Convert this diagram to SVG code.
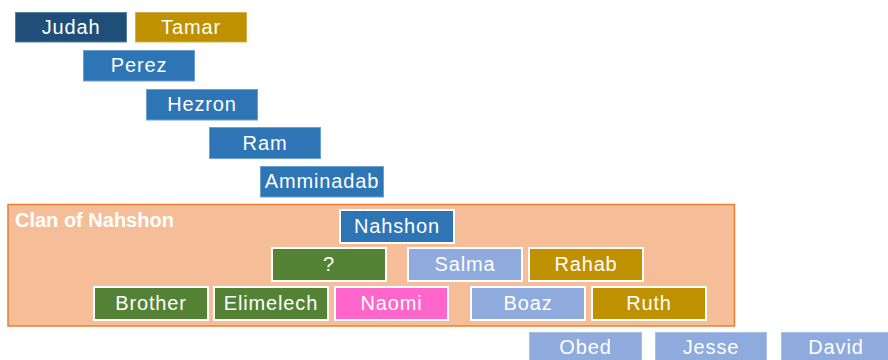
<svg xmlns="http://www.w3.org/2000/svg" width="888" height="360" viewBox="0 0 888 360">
  <style>
    .box { stroke-width: 1; }
    .in { stroke: #ffffff; stroke-width: 2; }
    .lbl { font-family: "Liberation Sans", Arial, sans-serif; font-size: 20px; letter-spacing: 0.85px; fill: #ffffff; text-anchor: middle; }
    .clan { font-family: "Liberation Sans", Arial, sans-serif; font-size: 20px; font-weight: bold; fill: #ffffff; }
    .dark { fill: #1f4e79; stroke: #5a7fa3; }
    .gold { fill: #bf9000; }
    .blue { fill: #2e75b6; stroke: #6d9fd0; }
    .green { fill: #548235; }
    .pale { fill: #8faadc; }
    .pink { fill: #ff66cc; }
  </style>

  <rect width="888" height="360" fill="#ffffff"/>

  <!-- clan region -->
  <g id="clan-nahshon">
    <rect x="8" y="204.5" width="726.5" height="121.5" fill="#f6be98" stroke="#ed7d31" stroke-width="1.5"/>
    <text class="clan" x="15" y="227">Clan of Nahshon</text>
  </g>

  <!-- line of descent above the clan -->
  <g id="judah"><rect class="box dark" x="15.5" y="12.5" width="111" height="29.5"/><text class="lbl" x="71" y="34">Judah</text></g>
  <g id="tamar"><rect class="box gold" x="135.5" y="12.5" width="111" height="29.5" stroke="#d6b050"/><text class="lbl" x="191" y="34">Tamar</text></g>
  <g id="perez"><rect class="box blue" x="83.5" y="50.5" width="111" height="30.5"/><text class="lbl" x="139" y="72">Perez</text></g>
  <g id="hezron"><rect class="box blue" x="146.5" y="89.5" width="111" height="30.5"/><text class="lbl" x="202" y="111">Hezron</text></g>
  <g id="ram"><rect class="box blue" x="209.5" y="127.5" width="111" height="31"/><text class="lbl" x="265" y="150">Ram</text></g>
  <g id="amminadab"><rect class="box blue" x="260.5" y="166.5" width="123" height="30.5"/><text class="lbl" x="322" y="188">Amminadab</text></g>

  <!-- members of the clan -->
  <g id="nahshon"><rect class="in" x="340" y="210" width="114" height="33" fill="#2e75b6"/><text class="lbl" x="397" y="233">Nahshon</text></g>
  <g id="unknown"><rect class="in green" x="272" y="248" width="114" height="33"/><text class="lbl" x="329" y="271">?</text></g>
  <g id="salma"><rect class="in pale" x="408" y="248" width="114" height="33"/><text class="lbl" x="465" y="271">Salma</text></g>
  <g id="rahab"><rect class="in gold" x="529" y="248" width="114" height="33"/><text class="lbl" x="586" y="271">Rahab</text></g>
  <g id="brother"><rect class="in green" x="94" y="287" width="114" height="33"/><text class="lbl" x="151" y="310">Brother</text></g>
  <g id="elimelech"><rect class="in green" x="214" y="287" width="114" height="33"/><text class="lbl" x="271" y="310">Elimelech</text></g>
  <g id="naomi"><rect class="in pink" x="335" y="287" width="113" height="33"/><text class="lbl" x="391.5" y="310">Naomi</text></g>
  <g id="boaz"><rect class="in pale" x="471" y="287" width="114" height="33"/><text class="lbl" x="528" y="310">Boaz</text></g>
  <g id="ruth"><rect class="in gold" x="592" y="287" width="114" height="33"/><text class="lbl" x="649" y="310">Ruth</text></g>

  <!-- descendants below the clan -->
  <g id="obed"><rect class="box pale" x="529.5" y="332.5" width="112" height="30" stroke="#a9bfe6"/><text class="lbl" x="585.5" y="354">Obed</text></g>
  <g id="jesse"><rect class="box pale" x="655.5" y="332.5" width="111" height="30" stroke="#a9bfe6"/><text class="lbl" x="711" y="354">Jesse</text></g>
  <g id="david"><rect class="box pale" x="781.5" y="332.5" width="112" height="30" stroke="#a9bfe6"/><text class="lbl" x="836" y="354">David</text></g>

  <g id="connectors"/>
</svg>
